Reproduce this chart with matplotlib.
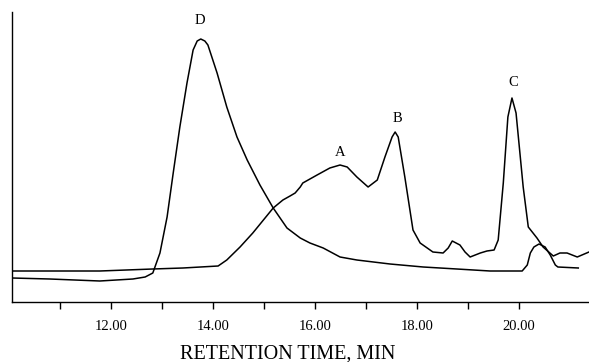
import matplotlib
matplotlib.use("Agg")
import matplotlib.pyplot as plt
from matplotlib.ticker import FixedLocator

# curve D: large early peak, small bump near 20.4 min
t_d = [10.06, 10.80, 11.78, 12.43, 12.67, 12.82, 12.96, 13.10, 13.22, 13.35, 13.49, 13.61,
       13.69, 13.76, 13.84, 13.90, 14.08, 14.27, 14.47, 14.67, 14.92, 15.18, 15.45, 15.71,
       15.90, 16.16, 16.49, 16.82, 17.47, 18.12, 18.78, 19.43, 20.06, 20.16, 20.22, 20.29,
       20.39, 20.51, 20.61, 20.71, 20.76, 21.16]
s_d = [24, 23, 21, 23, 25, 29, 49, 85, 129, 175, 219, 252,
       261, 263, 261, 257, 229, 195, 165, 142, 117, 94, 74, 64,
       59, 54, 45, 42, 38, 35, 33, 31, 31, 37, 49, 55,
       58, 55, 47, 37, 35, 34]

# curve with peaks A, B, C
t_abc = [10.06, 11.78, 12.82, 13.41, 14.10, 14.27, 14.53, 14.78, 15.02, 15.18, 15.37, 15.51,
         15.61, 15.71, 15.76, 16.04, 16.29, 16.49, 16.63, 16.82, 17.04, 17.22, 17.37, 17.51,
         17.57, 17.63, 17.76, 17.92, 18.06, 18.31, 18.51, 18.61, 18.69, 18.84, 18.94, 19.04,
         19.24, 19.37, 19.51, 19.59, 19.69, 19.78, 19.86, 19.94, 20.08, 20.18, 20.35, 20.47,
         20.67, 20.80, 20.94, 21.14, 21.37]
s_abc = [31, 31, 33, 34, 36, 42, 55, 69, 84, 94, 102, 106,
         109, 115, 119, 127, 134, 137, 135, 125, 115, 122, 145, 165,
         170, 165, 125, 72, 59, 50, 49, 54, 61, 57, 50, 45,
         49, 51, 52, 62, 119, 185, 204, 189, 115, 75, 64, 55,
         46, 49, 49, 45, 50]

peak_names = ["D", "A", "B", "C"]
peak_t = [13.75, 16.49, 17.61, 19.88]
peak_s = [281, 150, 184, 220]

major_ticks = [12, 14, 16, 18, 20]
minor_ticks = [11, 13, 15, 17, 19]

plt.rcParams["font.family"] = ["Liberation Serif", "DejaVu Serif"]

fig = plt.figure(figsize=(5.89, 3.62), dpi=100)
ax = fig.add_axes([12 / 589, 60 / 362, 577 / 589, 290 / 362])

ax.plot(t_d, s_d, color="black", lw=1.1)
ax.plot(t_abc, s_abc, color="black", lw=1.1)
for name, x, y in zip(peak_names, peak_t, peak_s):
    ax.text(x, y, name, ha="center", va="center", fontsize=10.5)

ax.set_xlim(10.06, 21.37)
ax.set_ylim(0, 290)
ax.spines["top"].set_visible(False)
ax.spines["right"].set_visible(False)
ax.spines["left"].set_linewidth(1.0)
ax.spines["bottom"].set_linewidth(1.0)
ax.set_yticks([])

ax.xaxis.set_major_locator(FixedLocator(major_ticks))
ax.xaxis.set_minor_locator(FixedLocator(minor_ticks))
ax.set_xticklabels(["%.2f" % v for v in major_ticks])
ax.tick_params(axis="x", which="both", direction="out", length=5, width=1.0)
ax.tick_params(axis="x", which="major", labelsize=10.5, pad=8)

ax.set_xlabel("RETENTION TIME, MIN", fontsize=14.5)
ax.xaxis.set_label_coords(0.477, -0.145)

fig.savefig("out.png", dpi=100)
